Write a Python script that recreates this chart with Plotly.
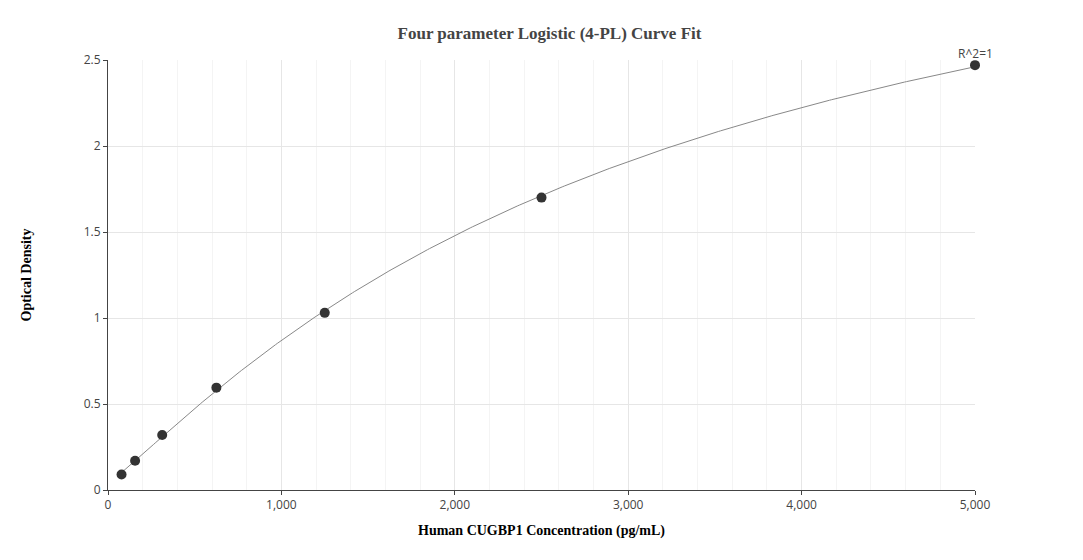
import numpy as np
import plotly.graph_objects as go

conc = [78.125, 156.25, 312.5, 625, 1250, 2500, 5000]
od = [0.09, 0.17, 0.32, 0.595, 1.03, 1.7, 2.47]

x = np.array(conc); y = np.array(od)
def f(p, x):
    a, b, c, d = p
    return d + (a - d) / (1 + (x / c) ** b)
p = np.array([0.0, 1.1, 3000.0, 4.0])
for _ in range(200):
    r = y - f(p, x)
    J = np.zeros((len(x), 4))
    for i in range(4):
        dp = np.zeros(4); dp[i] = 1e-6 * max(abs(p[i]), 1e-3)
        J[:, i] = (f(p + dp, x) - f(p, x)) / dp[i]
    step = np.linalg.lstsq(J.T @ J + 1e-6 * np.eye(4), J.T @ r, rcond=None)[0]
    p_new = p + step
    if p_new[2] <= 0 or not np.all(np.isfinite(p_new)):
        break
    p = p_new
xs = np.linspace(conc[0], conc[-1], 400)
ys = f(p, xs)

fig = go.Figure()
fig.add_trace(go.Scatter(x=xs, y=ys, mode="lines", line=dict(color="#888", width=1), hoverinfo="skip"))
fig.add_trace(go.Scatter(x=conc, y=od, mode="markers", marker=dict(color="#333", size=10), cliponaxis=False))
fig.add_annotation(x=conc[-1], y=od[-1], text="R^2=1", showarrow=False, yshift=12,
                   font=dict(family="Open Sans", size=12, color="#444"))
fig.update_layout(
    width=1083, height=560, showlegend=False, plot_bgcolor="white", paper_bgcolor="white",
    margin=dict(l=100, r=116, t=52, b=78),
    title=dict(text="<b>Four parameter Logistic (4-PL) Curve Fit</b>", x=0.5, xanchor="center",
               y=0.955, yanchor="middle",
               font=dict(family="Times New Roman, Liberation Serif, serif", size=17, color="#444")),
    xaxis=dict(range=[0, 5000], tickformat=",", showgrid=True, gridcolor="#e6e6e6",
               minor=dict(dtick=200, showgrid=True, gridcolor="#f4f4f4"),
               showline=True, linecolor="#444", ticks="outside", ticklen=4, tickcolor="#444",
               zeroline=False,
               title=dict(text="<b>Human CUGBP1 Concentration (pg/mL)</b>", standoff=12,
                          font=dict(family="Liberation Serif, serif", size=14, color="black")),
               tickfont=dict(family="Open Sans", size=12, color="#444")),
    yaxis=dict(range=[0, 2.5], dtick=0.5, showgrid=True, gridcolor="#e6e6e6",
               showline=True, linecolor="#444", ticks="outside", ticklen=4, tickcolor="#444",
               zeroline=False,
               title=dict(text="<b>Optical Density</b>", standoff=48,
                          font=dict(family="Liberation Serif, serif", size=14, color="black")),
               tickfont=dict(family="Open Sans", size=12, color="#444")),
)
fig.write_html("out.html")
